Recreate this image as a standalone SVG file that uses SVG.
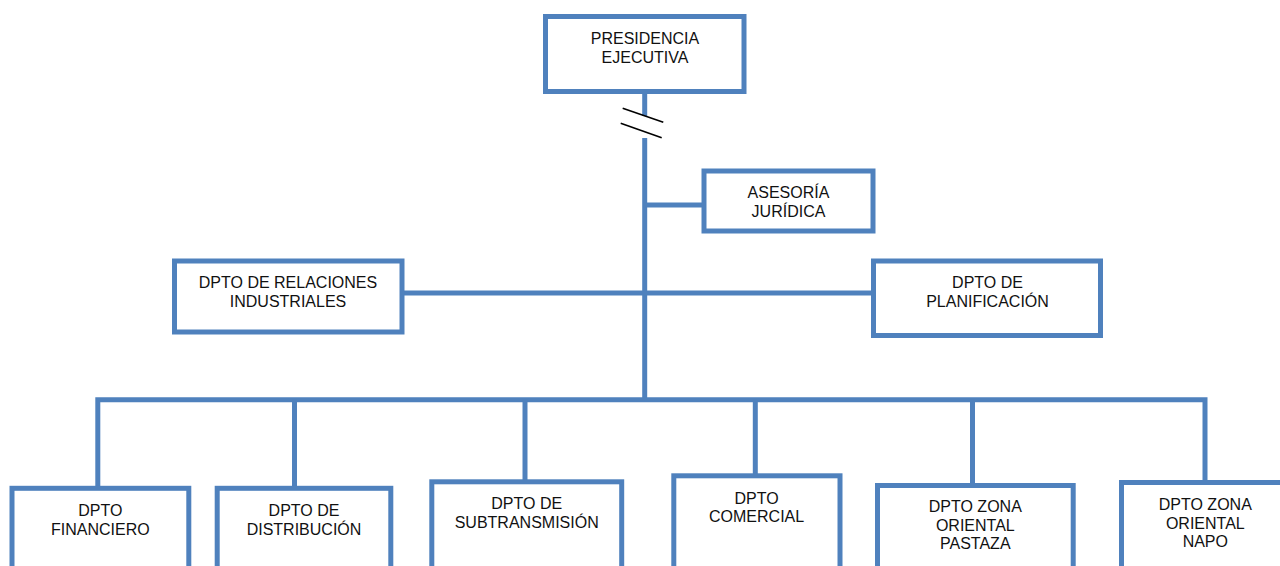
<svg xmlns="http://www.w3.org/2000/svg" width="1280" height="566" viewBox="0 0 1280 566">
<style>
.box{fill:#ffffff;stroke:#4F81BD;stroke-width:5}
.con{fill:none;stroke:#4F81BD;stroke-width:5;stroke-linejoin:miter}
.brk{stroke:#000000;stroke-width:1.6;fill:none}
text{font-family:"Liberation Sans",Arial,sans-serif;font-size:16px;fill:#111111;text-anchor:middle}
</style>
<rect width="1280" height="566" fill="#ffffff"/>
<g id="connectors">
<path class="con" d="M644.7 92 V116"/>
<path class="con" d="M644.7 138 V402"/>
<path class="con" d="M644.7 205 H704"/>
<path class="con" d="M402 293 H873.5"/>
<path class="con" d="M97.8 488 V399.7 H1205 V482.5"/>
<path class="con" d="M294.5 399.7 V488"/>
<path class="con" d="M525 399.7 V481.8"/>
<path class="con" d="M755.3 399.7 V475.8"/>
<path class="con" d="M972.5 399.7 V489"/>
<line class="brk" x1="622.7" y1="108.3" x2="663.3" y2="122.3"/>
<line class="brk" x1="620.7" y1="123.3" x2="661.7" y2="137.7"/>
</g>
<g id="presidencia">
<rect class="box" x="545.5" y="16.5" width="198.5" height="75"/>
<text x="645" y="44.3">PRESIDENCIA</text>
<text x="645" y="63.3">EJECUTIVA</text>
</g>
<g id="asesoria">
<rect class="box" x="704" y="171" width="169" height="60"/>
<text x="788.5" y="198.3">ASESORÍA</text>
<text x="788.5" y="217">JURÍDICA</text>
</g>
<g id="relaciones">
<rect class="box" x="174.5" y="261" width="227.5" height="71"/>
<text x="288" y="288.3">DPTO DE RELACIONES</text>
<text x="288" y="307.3">INDUSTRIALES</text>
</g>
<g id="planificacion">
<rect class="box" x="873.5" y="261" width="227" height="74.5"/>
<text x="987.5" y="288.3">DPTO DE</text>
<text x="987.5" y="307.3">PLANIFICACIÓN</text>
</g>
<g id="financiero">
<rect class="box" x="12" y="488.3" width="176.8" height="120"/>
<text x="100.4" y="516">DPTO</text>
<text x="100.4" y="535">FINANCIERO</text>
</g>
<g id="distribucion">
<rect class="box" x="217.2" y="488.3" width="173.6" height="120"/>
<text x="304" y="516">DPTO DE</text>
<text x="304" y="535">DISTRIBUCIÓN</text>
</g>
<g id="subtransmision">
<rect class="box" x="431.8" y="481.8" width="189.9" height="120"/>
<text x="526.7" y="509">DPTO DE</text>
<text x="526.7" y="527.7">SUBTRANSMISIÓN</text>
</g>
<g id="comercial">
<rect class="box" x="673.8" y="475.8" width="166.2" height="120"/>
<text x="756.6" y="504">DPTO</text>
<text x="756.6" y="522.3">COMERCIAL</text>
</g>
<g id="pastaza">
<rect class="box" x="877.5" y="485.5" width="195.7" height="120"/>
<text x="975.3" y="511.7">DPTO ZONA</text>
<text x="975.3" y="530.7">ORIENTAL</text>
<text x="975.3" y="549.3">PASTAZA</text>
</g>
<g id="napo">
<rect class="box" x="1121.5" y="482.5" width="167" height="120"/>
<text x="1205.3" y="510">DPTO ZONA</text>
<text x="1205.3" y="529">ORIENTAL</text>
<text x="1205.3" y="546.7">NAPO</text>
</g>
</svg>
